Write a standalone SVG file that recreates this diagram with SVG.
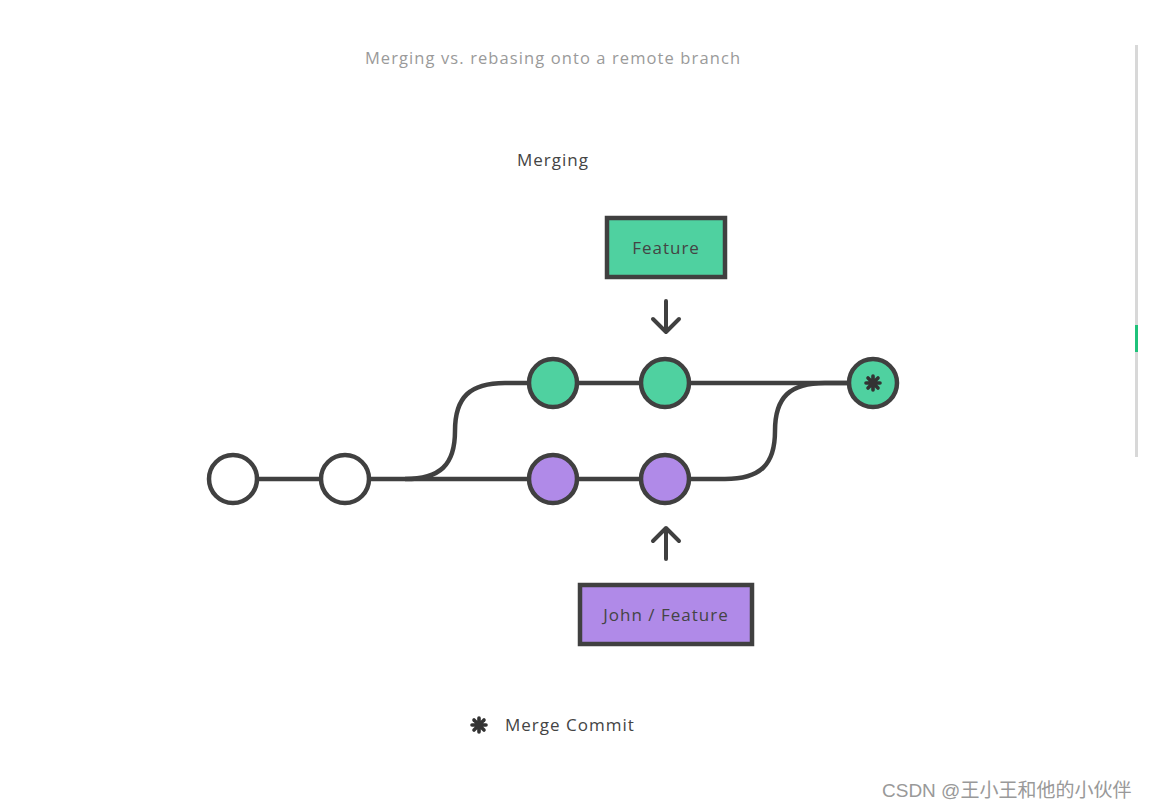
<svg xmlns="http://www.w3.org/2000/svg" width="1149" height="809" viewBox="0 0 1149 809">
<defs>
<style>
.t{font-family:"Open Sans","Liberation Sans",sans-serif;}
.title{font-size:16.5px;fill:#9a9a9a;letter-spacing:1.1px;}
.lbl{font-size:17px;fill:#444;letter-spacing:1px;}
.wire{fill:none;stroke:#404040;stroke-width:4.5;}
.node{stroke:#404040;stroke-width:4.5;}
.white{fill:#fff;}
.green{fill:#4fd1a0;}
.purple{fill:#b08ae8;}
.arrow{fill:none;stroke:#404040;stroke-width:4;stroke-linecap:round;stroke-linejoin:round;}
</style>
<g id="asterisk">
<g stroke="#333" stroke-width="3.6" stroke-linecap="round">
<line x1="0" y1="-7" x2="0" y2="7"/>
<line x1="-7" y1="0" x2="7" y2="0"/>
<line x1="-5" y1="-5" x2="5" y2="5"/>
<line x1="-5" y1="5" x2="5" y2="-5"/>
</g>
<circle r="4.5" fill="#333"/>
</g>
</defs>
<rect width="1149" height="809" fill="#fff"/>
<rect x="1135" y="45" width="3" height="412" fill="#d8d8d8"/>
<rect x="1135" y="325" width="3" height="27" fill="#1fc27a"/>
<text class="t title" x="553" y="64" text-anchor="middle">Merging vs. rebasing onto a remote branch</text>
<text class="t lbl" x="553" y="166" text-anchor="middle">Merging</text>
<g id="connectors">
<path class="wire" d="M258 479 H528"/>
<path class="wire" d="M405 479 C440 479 455 465 455 431 C455 397 470 383 505 383 H528"/>
<path class="wire" d="M578 383 H640"/>
<path class="wire" d="M690 383 H849"/>
<path class="wire" d="M578 479 H640"/>
<path class="wire" d="M690 479 H725 C760 479 775 465 775 431 C775 397 790 383 825 383 H849"/>
<path class="arrow" d="M666 301 V332 M653 319 L666 332 L679 319"/>
<path class="arrow" d="M666 559 V528 M653 541 L666 528 L679 541"/>
</g>
<g id="c1"><circle class="node white" cx="233" cy="479" r="24"/></g>
<g id="c2"><circle class="node white" cx="345" cy="479" r="24"/></g>
<g id="g1"><circle class="node green" cx="553" cy="383" r="24"/></g>
<g id="g2"><circle class="node green" cx="665" cy="383" r="24"/></g>
<g id="p1"><circle class="node purple" cx="553" cy="479" r="24"/></g>
<g id="p2"><circle class="node purple" cx="665" cy="479" r="24"/></g>
<g id="merge"><circle class="node green" cx="873" cy="383" r="24"/><use href="#asterisk" transform="translate(873 383)"/></g>
<g id="feature">
<rect class="node green" x="607" y="218" width="118" height="59"/>
<text class="t lbl" x="666" y="254" text-anchor="middle">Feature</text>
</g>
<g id="john">
<rect class="node purple" x="580" y="585" width="172" height="59"/>
<text class="t lbl" x="666" y="621" text-anchor="middle">John / Feature</text>
</g>
<g id="legend">
<use href="#asterisk" transform="translate(479 725)"/>
<text class="t lbl" x="505" y="731">Merge Commit</text>
</g>
<text x="882" y="797" font-family="'Liberation Sans','Noto Sans CJK SC',sans-serif" font-size="19" fill="#999">CSDN @王小王和他的小伙伴</text>
</svg>
